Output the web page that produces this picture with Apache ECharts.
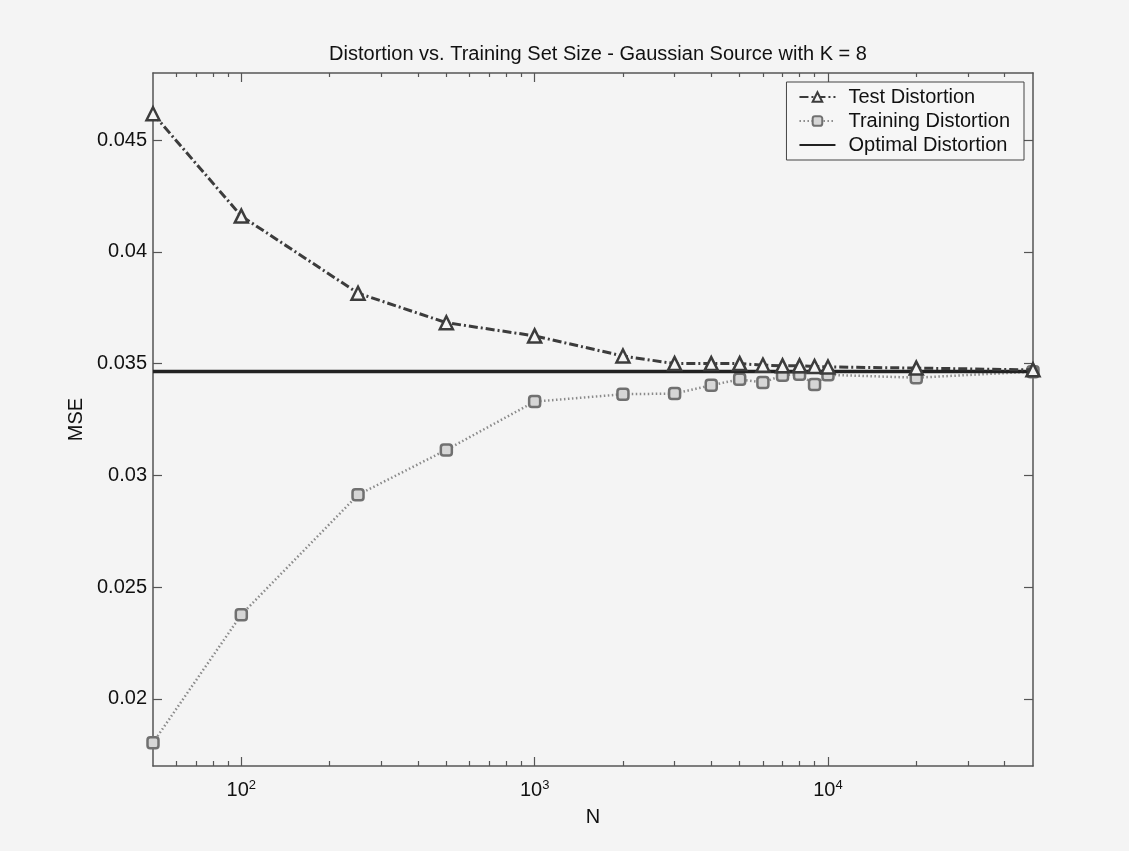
<!DOCTYPE html>
<html style="height: 100%">
<head>
    <meta charset="utf-8">
</head>
<body style="height: 100%; margin: 0; background: #f4f4f4">
    <div id="container" style="width: 1129px; height: 851px"></div>
    <script src="https://cdn.jsdelivr.net/npm/echarts@6/dist/echarts.min.js"></script>
    <script type="text/javascript">

var dom = document.getElementById("container");
var myChart = echarts.init(dom);

var sizes = [50, 100, 250, 500, 1000, 2000, 3000, 4000, 5000, 6000, 7000, 8000, 9000, 10000, 20000, 50000];
var testMSE = [0.04618, 0.0416, 0.03815, 0.03683, 0.03624, 0.03534, 0.0350, 0.0350, 0.0350, 0.03493, 0.0349, 0.0349, 0.03487, 0.03485, 0.0348, 0.03472];
var trainMSE = [0.01804, 0.02377, 0.02913, 0.03114, 0.0333, 0.03363, 0.03366, 0.03403, 0.0343, 0.03415, 0.03448, 0.03452, 0.03407, 0.0345, 0.03437, 0.03464];
var optimalN = [50, 50000];
var optimalMSE = [0.03465, 0.03465];

// axis ticks
var xMajor = [100, 1000, 10000];
var xMinor = [60, 70, 80, 90, 200, 300, 400, 500, 600, 700, 800, 900,
              2000, 3000, 4000, 5000, 6000, 7000, 8000, 9000, 20000, 30000, 40000];
var yTicks = [0.02, 0.025, 0.03, 0.035, 0.04, 0.045];

function pairs(xs, ys) {
    return xs.map(function (x, i) { return [x, ys[i]]; });
}

var font = 'Arial, "Liberation Sans", Helvetica, sans-serif';
var axisColor = '#555';

function xAxisDef(pos, ticks, len, showLine, showLabel) {
    return {
        type: 'log',
        logBase: 10,
        position: pos,
        min: 50,
        max: 50000,
        gridIndex: 0,
        axisLine: { show: showLine, lineStyle: { color: axisColor, width: 1.5 } },
        axisTick: { show: true, inside: true, length: len, customValues: ticks,
                    lineStyle: { color: axisColor, width: 1.2 } },
        axisLabel: {
            show: showLabel,
            customValues: ticks,
            margin: 13,
            formatter: function (v) {
                return '{b|10}{s|' + Math.round(Math.log10(v)) + '}';
            },
            rich: {
                b: { fontSize: 20, lineHeight: 22, color: '#111', fontFamily: font },
                s: { fontSize: 13, lineHeight: 13, color: '#111', fontFamily: font, verticalAlign: 'top' }
            }
        },
        splitLine: { show: false },
        minorTick: { show: false }
    };
}

var option = {
    backgroundColor: '#f4f4f4',
    animation: false,
    title: {
        text: 'Distortion vs. Training Set Size - Gaussian Source with K = 8',
        left: 593,
        textAlign: 'center',
        top: 39,
        textStyle: { fontSize: 20, fontWeight: 'normal', color: '#111', fontFamily: font }
    },
    legend: {
        orient: 'vertical',
        right: 105,
        top: 82,
        padding: [5, 14, 5, 12],
        itemWidth: 36,
        itemHeight: 12,
        itemGap: 4,
        backgroundColor: '#f6f6f6',
        borderColor: '#444',
        borderWidth: 1,
        textStyle: { fontSize: 20, color: '#111', fontFamily: font, lineHeight: 20, padding: [0, 0, 0, 8] },
        data: ['Test Distortion', 'Training Distortion',
               { name: 'Optimal Distortion', itemStyle: { opacity: 0 } }]
    },
    grid: { left: 153, top: 73, width: 880, height: 693, containLabel: false },
    xAxis: [
        Object.assign(xAxisDef('bottom', xMajor, 9, true, true), {
            name: 'N', nameLocation: 'middle', nameGap: 41,
            nameTextStyle: { fontSize: 20, color: '#111', fontFamily: font }
        }),
        xAxisDef('bottom', xMinor, 5, false, false),
        xAxisDef('top', xMajor, 9, true, false),
        xAxisDef('top', xMinor, 4, false, false)
    ],
    yAxis: [{
        type: 'value',
        position: 'left',
        min: 0.017,
        max: 0.048,
        name: 'MSE',
        nameLocation: 'middle',
        nameGap: 64,
        nameTextStyle: { fontSize: 20, color: '#111', fontFamily: font },
        axisLine: { show: true, lineStyle: { color: axisColor, width: 1.5 } },
        axisTick: { show: true, inside: true, length: 9, customValues: yTicks,
                    lineStyle: { color: axisColor, width: 1.2 } },
        axisLabel: { customValues: yTicks, margin: 6, fontSize: 20, color: '#111', fontFamily: font,
                     formatter: function (v) { return String(+v.toFixed(3)); } },
        splitLine: { show: false }
    }, {
        type: 'value',
        position: 'right',
        min: 0.017,
        max: 0.048,
        axisLine: { show: true, lineStyle: { color: axisColor, width: 1.5 } },
        axisTick: { show: true, inside: true, length: 9, customValues: yTicks,
                    lineStyle: { color: axisColor, width: 1.2 } },
        axisLabel: { show: false },
        splitLine: { show: false }
    }],
    series: [{
        name: 'Optimal Distortion',
        type: 'line',
        data: pairs(optimalN, optimalMSE),
        showSymbol: false,
        symbol: 'none',
        lineStyle: { color: '#222', width: 3.5 },
        itemStyle: { color: '#222' },
        z: 3
    }, {
        name: 'Training Distortion',
        type: 'line',
        data: pairs(sizes, trainMSE),
        symbol: 'roundRect',
        symbolSize: 11,
        lineStyle: { color: '#8a8a8a', width: 2.5, type: [1.5, 2.5] },
        itemStyle: { color: '#d6d6d6', borderColor: '#707070', borderWidth: 2.5 },
        z: 2
    }, {
        name: 'Test Distortion',
        type: 'line',
        data: pairs(sizes, testMSE),
        symbol: 'triangle',
        symbolSize: 13,
        lineStyle: { color: '#3c3c3c', width: 3, type: [9, 3, 2, 3] },
        itemStyle: { color: '#f4f4f4', borderColor: '#3c3c3c', borderWidth: 2.5 },
        z: 4
    }]
};

myChart.setOption(option);
    </script>
</body>
</html>
